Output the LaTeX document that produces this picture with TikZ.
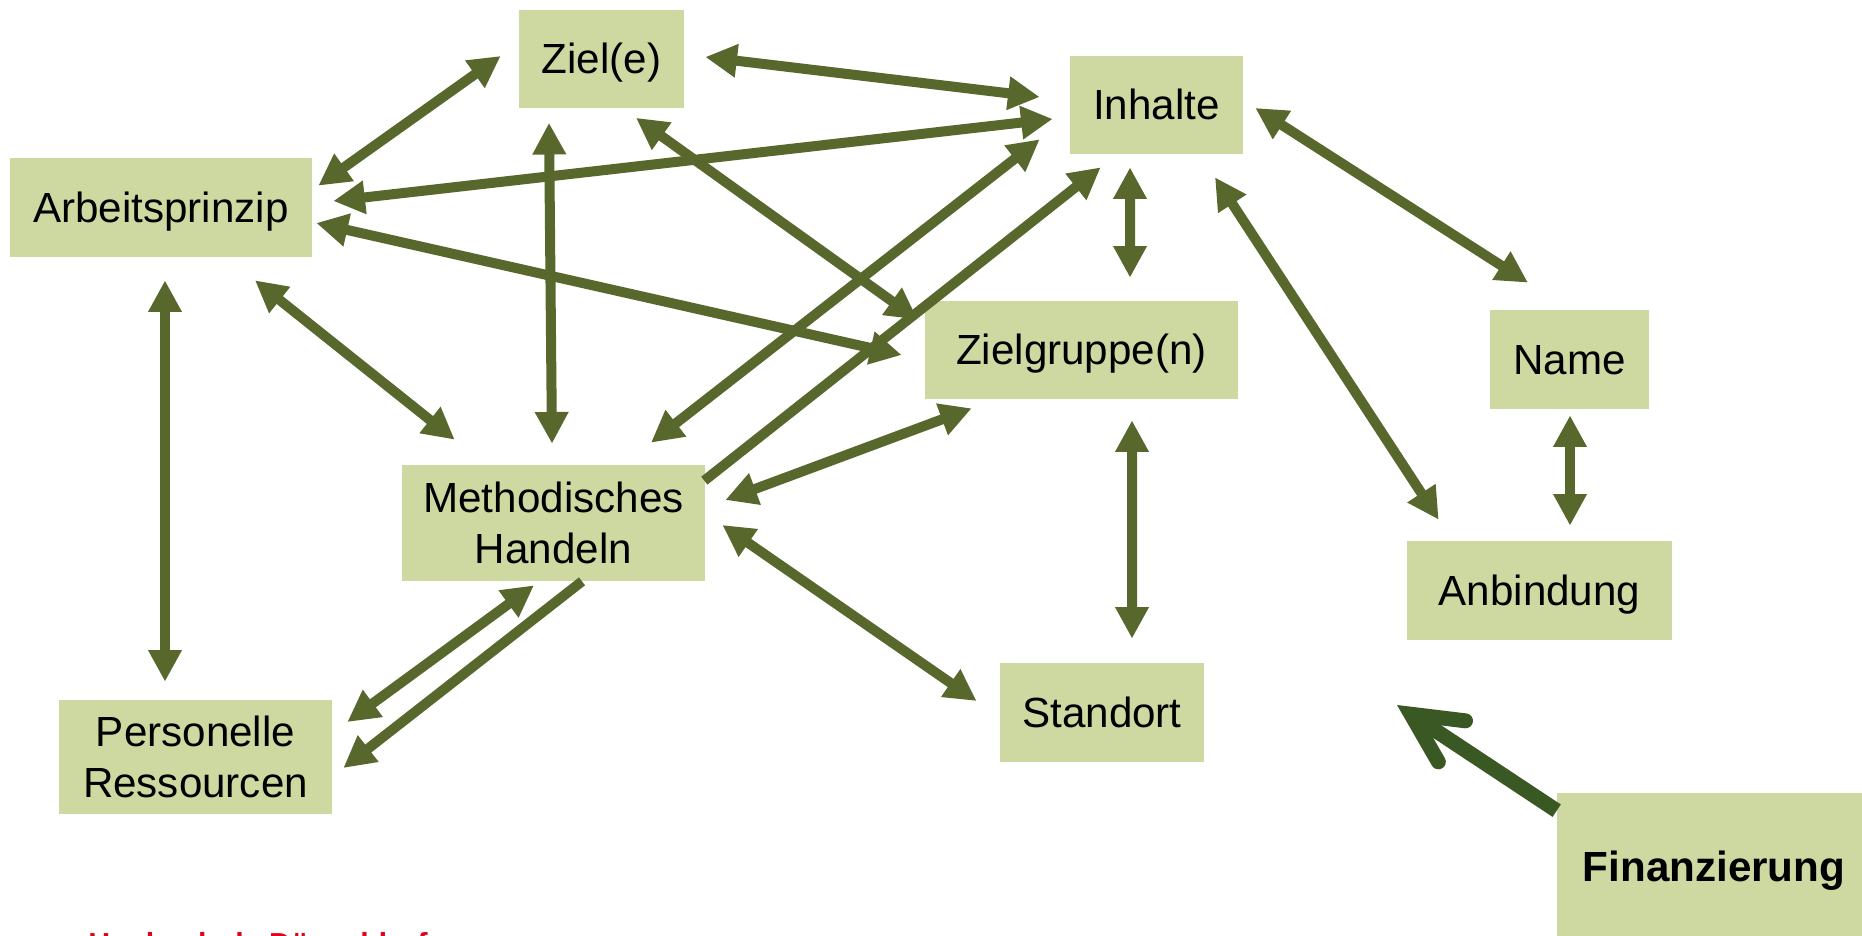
\documentclass[tikz,border=0pt]{standalone}
\usepackage{fontspec}
\setmainfont{Liberation Sans}
\usetikzlibrary{arrows.meta}
\definecolor{gruenhell}{RGB}{206,217,161}
\definecolor{gruenpfeil}{RGB}{88,104,45}
\definecolor{gruendunkel}{RGB}{58,88,35}
\definecolor{hsdrot}{RGB}{226,0,26}
\begin{document}
\begin{tikzpicture}[x=0.02cm,y=-0.02cm,>={Triangle[length=18pt,width=18pt]},
	kasten/.style={fill=gruenhell,inner sep=0pt,minimum height=1.98cm,font=\fontsize{24}{29.5}\selectfont,text height=17pt,text depth=0pt},
	kastenzwei/.style={fill=gruenhell,inner sep=0pt,align=center,font=\fontsize{24}{29.5}\selectfont},
	pfeil/.style={draw=gruenpfeil,line width=5.7pt}]
	\useasboundingbox (0,0) rectangle (1862,936);
	%Kästchen
	\node[kasten,minimum width=6.04cm] (arb) at (161,207.5) {Arbeitsprinzip};
	\node[kasten,minimum width=3.30cm] (ziel) at (601.5,59) {Ziel(e)};
	\node[kasten,minimum width=3.46cm,minimum height=1.96cm] (inh) at (1156.5,105) {Inhalte};
	\node[kasten,minimum width=6.26cm,minimum height=1.96cm] (zg) at (1081.5,350) {Zielgruppe(n)};
	\node[kasten,minimum width=3.18cm] (name) at (1569.5,359.5) {Name};
	\node[kastenzwei,minimum width=6.06cm,minimum height=2.32cm] (meth) at (553.5,523) {Methodisches\\Handeln};
	\node[kasten,minimum width=5.30cm] (anb) at (1539.5,590.5) {Anbindung};
	\node[kastenzwei,minimum width=5.46cm,minimum height=2.28cm] (pers) at (195.5,757) {Personelle\\Ressourcen};
	\node[kasten,minimum width=4.08cm] (stand) at (1102,712.5) {Standort};
	\node[kasten,minimum width=6.28cm,minimum height=2.96cm,font=\bfseries\fontsize{24}{29.5}\selectfont] (fin) at (1714,867) {Finanzierung};
	\node[anchor=base west,inner sep=0pt,text=hsdrot,font=\bfseries\fontsize{17.3}{20}\selectfont] (hsd) at (88,954) {Hochschule Düsseldorf};
	%Pfeile
	\draw[pfeil,<->] ([shift={(6,28)}]arb.north east) -- ([shift={(-18,-3)}]ziel.west);
	\draw[pfeil,<->] ([shift={(21,-2)}]ziel.east) -- ([shift={(-30,-8)}]inh.west);
	\draw[pfeil,<->] ([shift={(21,-6.5)}]arb.east) -- ([shift={(-17,14)}]inh.west);
	\draw[pfeil,<->] ([shift={(4,15.5)}]arb.east) -- ([shift={(-23,5)}]zg.west);
	\draw[pfeil,<->] ([shift={(34.5,9)}]ziel.south) -- ([shift={(-7,19)}]zg.north west);
	\draw[pfeil,<->] ([shift={(-52.5,14)}]ziel.south) -- ([shift={(-1.5,-21)}]meth.north);
	\draw[pfeil,<->] ([shift={(94,23)}]arb.south) -- ([shift={(53,-25)}]meth.north west);
	\draw[pfeil,<->] ([shift={(4,23)}]arb.south) -- ([shift={(-30.5,-18)}]pers.north);
	\draw[pfeil,<->] ([shift={(-30,-15)}]inh.south west) -- ([shift={(97.5,-22)}]meth.north);
	\draw[pfeil,->] ([shift={(-1,16)}]meth.north east) -- ([shift={(31,13)}]inh.south west);
	\draw[pfeil,<->] ([shift={(47,9)}]zg.south west) -- ([shift={(20,-23)}]meth.east);
	\draw[pfeil,<->] ([shift={(17,2)}]meth.east) -- ([shift={(-23,-11.5)}]stand.west);
	\draw[pfeil,<->] ([shift={(-19.5,4)}]meth.south) -- ([shift={(15,-35)}]pers.east);
	\draw[pfeil,->] ([shift={(28.5,0)}]meth.south) -- ([shift={(11,11)}]pers.east);
	\draw[pfeil,<->] ([shift={(-26.5,13)}]inh.south) -- ([shift={(48.5,-23)}]zg.north);
	\draw[pfeil,<->] ([shift={(50.5,21)}]zg.south) -- ([shift={(30,-24)}]stand.north);
	\draw[pfeil,<->] ([shift={(12,3)}]inh.east) -- ([shift={(-41.5,-27)}]name.north);
	\draw[pfeil,<->] ([shift={(58.5,23)}]inh.south) -- ([shift={(32,-21)}]anb.north west);
	\draw[pfeil,<->] ([shift={(0.5,6)}]name.south) -- ([shift={(30.5,-15)}]anb.north);
	%Finanzierung
	\coordinate (finspitze) at (1397,705);
	\draw[draw=gruendunkel,line width=8.5pt,-{Straight Barb[length=28pt,width=28pt,line cap=round,line join=miter]}] ([shift={(0,18)}]fin.north west) -- (finspitze);
\end{tikzpicture}
\end{document}
